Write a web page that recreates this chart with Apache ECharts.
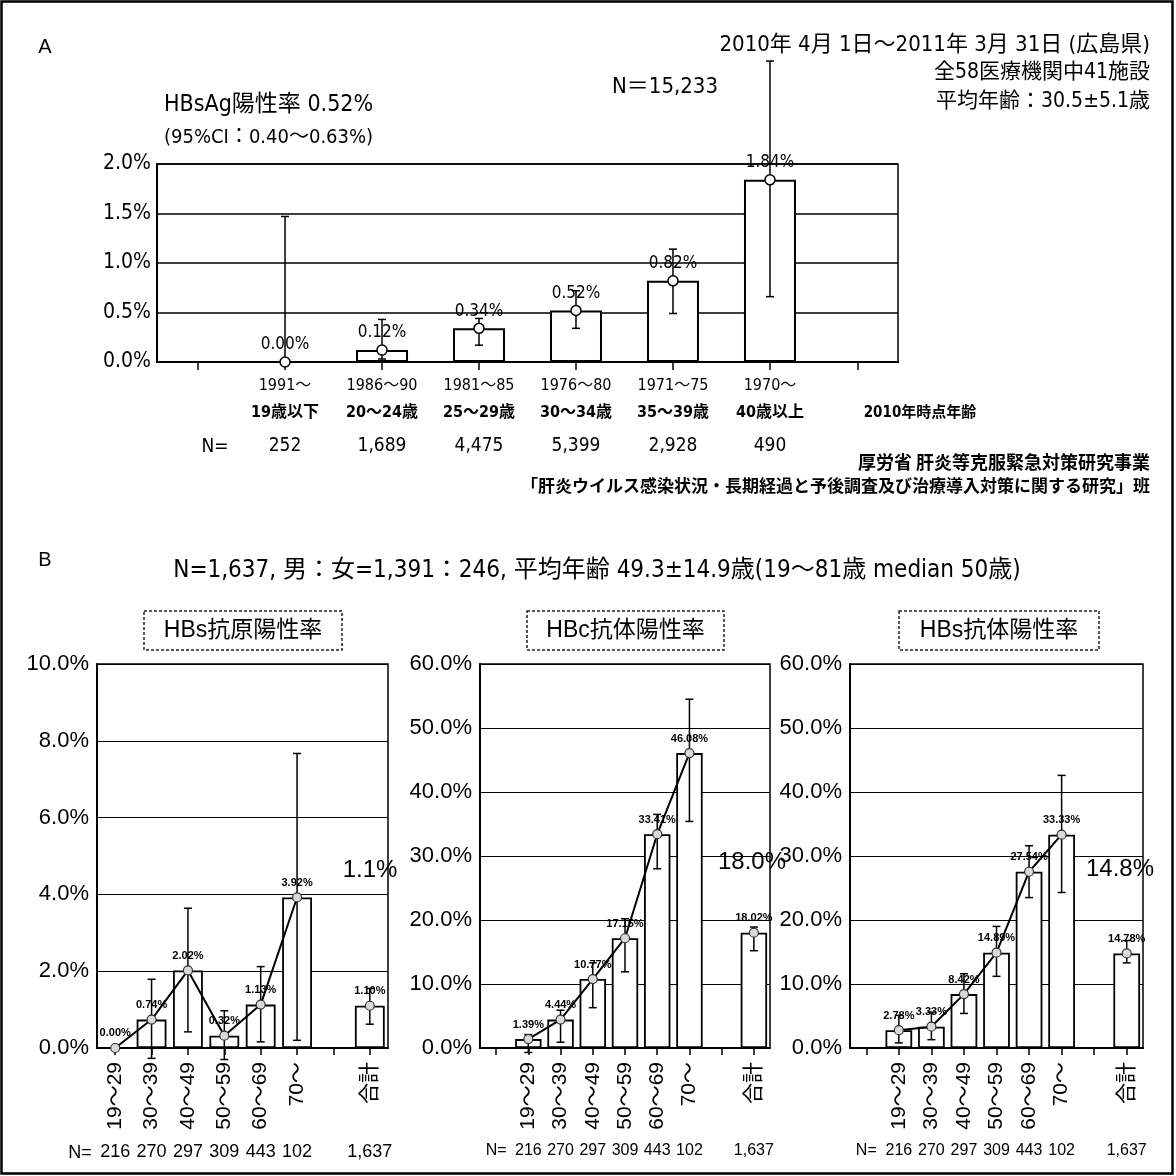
<!DOCTYPE html>
<html><head><meta charset="utf-8">
<script src="https://cdn.jsdelivr.net/npm/echarts@6/dist/echarts.min.js"></script>
<style>html,body{margin:0;padding:0;background:#fff}#c{width:1176px;height:1176px}</style>
</head><body><div id="c"></div>
<script>
// ---------- Panel A data ----------
const aYears = ['1991～', '1986～90', '1981～85', '1976～80', '1971～75', '1970～'];
const aAges = ['19歳以下', '20～24歳', '25～29歳', '30～34歳', '35～39歳', '40歳以上'];
const aN = ['252', '1,689', '4,475', '5,399', '2,928', '490'];
const aRate = [0.00, 0.12, 0.34, 0.52, 0.82, 1.84];
const aLow = [0.00, 0.03, 0.17, 0.34, 0.49, 0.66];
const aHigh = [1.47, 0.43, 0.44, 0.72, 1.14, 3.04];

// ---------- Panel B data ----------
const bCats = ['19～29', '30～39', '40～49', '50～59', '60～69', '70～'];
const bTotalCat = '合計';
const bN = ['216', '270', '297', '309', '443', '102'];
const bTotalN = '1,637';
const bTitles = ['HBs抗原陽性率', 'HBc抗体陽性率', 'HBs抗体陽性率'];
// HBs antigen
const agRate = [0.00, 0.74, 2.02, 0.32, 1.13, 3.92];
const agLow = [null, -0.27, 0.42, -0.30, 0.16, 0.20];
const agHigh = [null, 1.79, 3.64, 0.97, 2.12, 7.67];
const agTotal = 1.10, agTotalLow = 0.62, agTotalHigh = 1.55;
// HBc antibody
const cRate = [1.39, 4.44, 10.77, 17.15, 33.41, 46.08];
const cLow = [-0.7, 0.9, 6.3, 11.9, 28.0, 35.4];
const cHigh = [2.1, 5.9, 13.3, 20.2, 36.5, 54.5];
const cTotal = 18.02, cTotalLow = 15.2, cTotalHigh = 18.9;
// HBs antibody
const sRate = [2.78, 3.33, 8.42, 14.89, 27.54, 33.33];
const sLow = [0.8, 1.3, 5.4, 11.2, 23.5, 24.3];
const sHigh = [5.1, 5.6, 11.6, 19.0, 31.6, 42.6];
const sTotal = 14.78, sTotalLow = 13.3, sTotalHigh = 16.8;
const bBig = ['1.1%', '18.0%', '14.8%'];

// ---------- fonts ----------
const FA = '"Liberation Sans Narrow","Arial Narrow","DejaVu Sans Condensed","Noto Sans CJK JP",sans-serif';
const FB = '"Liberation Sans",Arial,"Noto Sans CJK JP",sans-serif';
const FJ = '"Noto Sans CJK JP",sans-serif';

function errItem(cap, lw) {
  return function (params, api) {
    const x = api.value(0), lo = api.value(1), hi = api.value(2);
    const p1 = api.coord([x, hi]), p2 = api.coord([x, lo]);
    const st = {stroke: '#000', lineWidth: lw};
    return {type: 'group', children: [
      {type: 'line', shape: {x1: p1[0], y1: p1[1], x2: p2[0], y2: p2[1]}, style: st},
      {type: 'line', shape: {x1: p1[0] - cap, y1: p1[1], x2: p1[0] + cap, y2: p1[1]}, style: st},
      {type: 'line', shape: {x1: p2[0] - cap, y1: p2[1], x2: p2[0] + cap, y2: p2[1]}, style: st}
    ]};
  };
}

const grids = [], xAxes = [], xAxesN = [], yAxes = [], series = [], graphic = [];

function T(x, y, text, font, align, va) {
  graphic.push({type: 'text', x: x, y: y, z: 100,
    style: {text: text, font: font, fill: '#000', align: align || 'center', textAlign: align || 'center',
      verticalAlign: va || 'middle', textVerticalAlign: va || 'middle'}});
}

// ---------- Panel A ----------
grids.push({left: 157, top: 164, width: 741, height: 198, show: true, borderColor: '#000', borderWidth: 1.5});
xAxes.push({type: 'value', gridIndex: 0, min: -0.32, max: 7.32,
  splitLine: {show: false},
  axisLine: {show: true, lineStyle: {color: '#000', width: 2}},
  axisTick: {show: true, customValues: [0.1, 1, 2, 3, 4, 5, 6, 6.9], length: 8, lineStyle: {color: '#000', width: 1.5}},
  axisLabel: {customValues: [1, 2, 3, 4, 5, 6], margin: 10,
    formatter: function (v) { const i = Math.round(v) - 1; return '{y|' + aYears[i] + '}\n{a|' + aAges[i] + '}\n{n|' + aN[i] + '}'; },
    rich: {
      y: {fontFamily: FA, fontSize: 16, color: '#000', lineHeight: 27},
      a: {fontFamily: FA, fontSize: 16, fontWeight: 'bold', color: '#000', lineHeight: 27},
      n: {fontFamily: FA, fontSize: 19, color: '#000', lineHeight: 41}
    }}
});
yAxes.push({type: 'value', gridIndex: 0, min: 0, max: 2, interval: 0.5,
  axisLine: {show: true, onZero: false, lineStyle: {color: '#000', width: 2}},
  axisTick: {show: false},
  splitLine: {show: true, lineStyle: {color: '#000', width: 1.5}},
  axisLabel: {formatter: v => v.toFixed(1) + '%', fontFamily: FA, fontSize: 21, color: '#000', margin: 6}
});
series.push({type: 'bar', xAxisIndex: 0, yAxisIndex: 0, barWidth: 52, z: 2,
  data: aRate.map((v, i) => [i + 1, v]),
  itemStyle: {color: '#fff', borderColor: '#000', borderWidth: 2}});
series.push({type: 'custom', xAxisIndex: 0, yAxisIndex: 0, clip: false, z: 3,
  renderItem: errItem(4, 1.5), encode: {x: 0, y: [1, 2]},
  data: aRate.map((v, i) => [i + 1, aLow[i], aHigh[i]])});
series.push({type: 'scatter', xAxisIndex: 0, yAxisIndex: 0, z: 4, symbol: 'circle', symbolSize: 10,
  data: aRate.map((v, i) => [i + 1, v]),
  itemStyle: {color: '#fff', borderColor: '#000', borderWidth: 1.5, opacity: 1},
  label: {show: true, position: 'top', distance: 3, formatter: p => p.value[1].toFixed(2) + '%',
    fontFamily: FA, fontSize: 17, color: '#000'}});

// ---------- Panel B ----------
const bConf = [
  {grid: {left: 97, top: 664, width: 291, height: 384}, lead: false, max: 10, interval: 2, nFont: 18,
    rate: agRate, low: agLow, high: agHigh, total: agTotal, tl: agTotalLow, th: agTotalHigh,
    bigX: 370, bigY: 870, box: [144, 611, 198, 39]},
  {grid: {left: 480, top: 664, width: 290, height: 384}, lead: true, max: 60, interval: 10, nFont: 16,
    rate: cRate, low: cLow, high: cHigh, total: cTotal, tl: cTotalLow, th: cTotalHigh,
    bigX: 752, bigY: 862, box: [527, 611, 197, 39]},
  {grid: {left: 850, top: 664, width: 293, height: 384}, lead: true, max: 60, interval: 10, nFont: 16,
    rate: sRate, low: sLow, high: sHigh, total: sTotal, tl: sTotalLow, th: sTotalHigh,
    bigX: 1120, bigY: 869, box: [899, 611, 200, 39]}
];

bConf.forEach(function (c, k) {
  const gi = k + 1;
  const cats = (c.lead ? [''] : []).concat(bCats, ['', bTotalCat]);
  const nCats = (c.lead ? ['N='] : []).concat(bN, ['', bTotalN]);
  const off = c.lead ? 1 : 0;
  const tIdx = off + bCats.length + 1;
  grids.push(Object.assign({show: true, borderColor: '#000', borderWidth: 1.5}, c.grid));
  xAxes.push({type: 'category', gridIndex: gi, data: cats, position: 'bottom',
    axisLine: {show: true, lineStyle: {color: '#000', width: 2}},
    axisTick: {show: true, alignWithLabel: true, length: 7, lineStyle: {color: '#000', width: 1.5}},
    splitLine: {show: false},
    axisLabel: {rotate: 90, interval: 0, margin: 14, fontFamily: FB, fontSize: 21, color: '#000'}});
  xAxesN.push({type: 'category', gridIndex: gi, data: nCats, position: 'bottom', offset: 0,
    axisLine: {show: false}, axisTick: {show: false}, splitLine: {show: false},
    axisLabel: {interval: 0, margin: 95, fontFamily: FB, fontSize: c.nFont, color: '#000'}});
  yAxes.push({type: 'value', gridIndex: gi, min: 0, max: c.max, interval: c.interval,
    axisLine: {show: true, lineStyle: {color: '#000', width: 2}},
    axisTick: {show: false},
    splitLine: {show: true, lineStyle: {color: '#000', width: 1.2}},
    axisLabel: {formatter: v => v.toFixed(1) + '%', fontFamily: FB, fontSize: 22, color: '#000', margin: 8}});
  const barData = cats.map(() => '-');
  c.rate.forEach((v, i) => { barData[i + off] = v; });
  barData[tIdx] = c.total;
  series.push({type: 'bar', xAxisIndex: gi, yAxisIndex: gi, barWidth: '82%', z: 2, data: barData,
    itemStyle: {color: '#fff', borderColor: '#000', borderWidth: 1.8}});
  const errData = [];
  c.rate.forEach((v, i) => { if (c.low[i] !== null) errData.push([i + off, c.low[i], c.high[i]]); });
  errData.push([tIdx, c.tl, c.th]);
  series.push({type: 'custom', xAxisIndex: gi, yAxisIndex: gi, clip: false, z: 3,
    renderItem: errItem(4, 1.5), encode: {x: 0, y: [1, 2]}, data: errData});
  const lineData = cats.map(() => '-');
  c.rate.forEach((v, i) => { lineData[i + off] = v; });
  series.push({type: 'line', xAxisIndex: gi, yAxisIndex: gi, z: 4, data: lineData, symbol: 'none',
    connectNulls: false, lineStyle: {color: '#000', width: 2}});
  const ptData = c.rate.map((v, i) => [i + off, v]).concat([[tIdx, c.total]]);
  series.push({type: 'scatter', xAxisIndex: gi, yAxisIndex: gi, z: 5, symbol: 'circle', symbolSize: 9,
    data: ptData,
    itemStyle: {color: '#d9d9d9', borderColor: '#333', borderWidth: 1.2, opacity: 1},
    label: {show: true, position: 'top', distance: 4, formatter: p => p.value[1].toFixed(2) + '%',
      fontFamily: FB, fontSize: 11, fontWeight: 'bold', color: '#000'}});
  if (!c.lead) T(80, 1153, 'N=', '18px ' + FB, 'center');
  T(c.bigX, c.bigY, bBig[k], '24px ' + FB, 'center');
  graphic.push({type: 'rect', z: 100, shape: {x: c.box[0], y: c.box[1], width: c.box[2], height: c.box[3]},
    style: {fill: '#fff', stroke: '#222', lineWidth: 1.5, lineDash: [3, 2]}});
  T(c.box[0] + c.box[2] / 2, c.box[1] + c.box[3] / 2, bTitles[k], '23px ' + FB, 'center');
});

// ---------- texts ----------
graphic.push({type: 'rect', z: 100, shape: {x: 1.5, y: 1.5, width: 1171, height: 1172},
  style: {fill: 'none', stroke: '#000', lineWidth: 2.5}});
T(45, 47, 'A', '20px ' + FB, 'center');
T(164, 105, 'HBsAg陽性率 0.52%', '23px ' + FA, 'left');
T(164, 138, '(95%CI：0.40～0.63%)', '20px ' + FA, 'left');
T(612, 87, 'N＝15,233', '22px ' + FA, 'left');
T(1150, 45, '2010年 4月 1日～2011年 3月 31日 (広島県)', '22px ' + FA, 'right');
T(1150, 73, '全58医療機関中41施設', '21px ' + FA, 'right');
T(1150, 102, '平均年齢：30.5±5.1歳', '21px ' + FA, 'right');
T(215, 447, 'N=', '19px ' + FA, 'center');
T(920, 413, '2010年時点年齢', 'bold 15px ' + FA, 'center');
T(1150, 462, '厚労省 肝炎等克服緊急対策研究事業', 'bold 18px ' + FJ, 'right');
T(1150, 486, '「肝炎ウイルス感染状況・長期経過と予後調査及び治療導入対策に関する研究」班', 'bold 17px ' + FJ, 'right');
T(45, 560, 'B', '20px ' + FB, 'center');
T(597, 571, 'N=1,637, 男：女=1,391：246, 平均年齢 49.3±14.9歳(19～81歳 median 50歳)', '24px ' + FA, 'center');

const chart = echarts.init(document.getElementById('c'));
chart.setOption({
  animation: false,
  backgroundColor: '#fff',
  grid: grids, xAxis: xAxes.concat(xAxesN), yAxis: yAxes, series: series, graphic: graphic
});
</script></body></html>
